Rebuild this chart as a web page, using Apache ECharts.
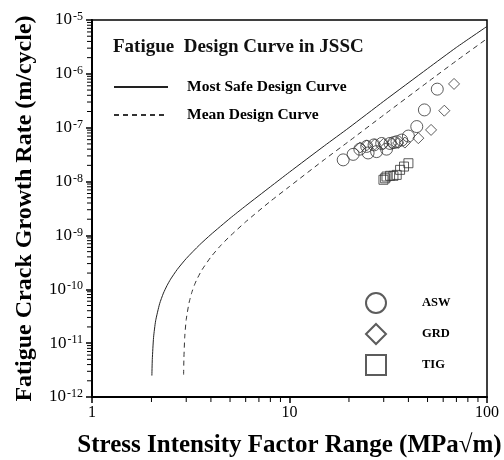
<!DOCTYPE html>
<html>
<head>
<meta charset="utf-8">
<script src="https://cdn.jsdelivr.net/npm/echarts@6/dist/echarts.min.js"></script>
<style>
  html, body { margin: 0; padding: 0; background: #fff; }
  #chart { width: 504px; height: 460px; }
</style>
</head>
<body>
<div id="chart"></div>
<script>
// JSSC fatigue design curves (stress intensity factor range vs crack growth rate)
const safeK    = [2.01, 2.02, 2.05, 2.1, 2.2, 2.3, 2.4, 2.5, 2.7, 3, 3.5, 4, 5, 6, 8, 10, 15, 20, 30, 50, 70, 100];
const safeRate = [2.5e-12, 5.0e-12, 1.28e-11, 2.6e-11, 5.4e-11, 8.5e-11, 1.18e-10, 1.54e-10, 2.33e-10, 3.72e-10, 6.65e-10,
                  1.04e-9, 2.08e-9, 3.54e-9, 8.0e-9, 1.5e-8, 4.6e-8, 1.0e-7, 3.1e-7, 1.25e-6, 3.1e-6, 7.6e-6];
const meanK    = [2.91, 2.92, 2.95, 3.0, 3.1, 3.2, 3.3, 3.4, 3.6, 4, 4.5, 5, 6, 8, 10, 15, 20, 30, 50, 70, 100];
const meanRate = [2.6e-12, 5.3e-12, 1.35e-11, 2.74e-11, 5.6e-11, 8.7e-11, 1.2e-10, 1.54e-10, 2.28e-10, 3.98e-10, 6.6e-10,
                  9.7e-10, 1.79e-9, 4.3e-9, 8.1e-9, 2.55e-8, 5.6e-8, 1.72e-7, 7.0e-7, 1.75e-6, 4.5e-6];

// Test results for the three weld finishes
const aswK    = [18.7, 21.0, 22.7, 25.0, 24.6, 27.6, 26.8, 29.3, 31.0, 32.3, 33.8, 35.0, 37.0, 40.0, 44.1, 48.2, 56.0];
const aswRate = [2.53e-8, 3.2e-8, 4.0e-8, 3.4e-8, 4.5e-8, 3.6e-8, 4.8e-8, 5.1e-8, 4.0e-8, 5.1e-8, 5.3e-8, 5.5e-8, 5.9e-8,
                 7.0e-8, 1.05e-7, 2.14e-7, 5.2e-7];
const grdK    = [22.8, 24.6, 27.0, 29.9, 32.9, 35.5, 38.4, 44.9, 52.1, 60.8, 68.1];
const grdRate = [4.3e-8, 4.7e-8, 4.9e-8, 5.0e-8, 5.1e-8, 5.2e-8, 5.3e-8, 6.4e-8, 9.1e-8, 2.07e-7, 6.5e-7];
const tigK    = [29.9, 30.5, 31.0, 32.3, 33.6, 34.9, 36.3, 38.0, 40.0];
const tigRate = [1.08e-8, 1.15e-8, 1.24e-8, 1.28e-8, 1.28e-8, 1.33e-8, 1.65e-8, 1.9e-8, 2.19e-8];

// Axis tick labels and minor tick positions
const xTickLabels = ['1', '10', '100'];
const minorMantissa = [2, 3, 4, 5, 6, 7, 8, 9];
const xDecades = [1, 10];
const yExponents = [-12, -11, -10, -9, -8, -7, -6];

const zip = (xs, ys) => xs.map((x, i) => [x, ys[i]]);
const serif = "'Liberation Serif', 'Times New Roman', serif";

const xMinor = [];
xDecades.forEach(d => minorMantissa.forEach(m => xMinor.push([d * m, 1e-12])));
const yMinor = [];
yExponents.forEach(e => minorMantissa.forEach(m => yMinor.push([1, m * Math.pow(10, e)])));

function tickSeries(data, dir) {
  return {
    type: 'custom',
    silent: true,
    clip: false,
    data: data,
    z: 5,
    renderItem: function (params, api) {
      const p = api.coord([api.value(0), api.value(1)]);
      const len = 5;
      const shape = dir === 'x'
        ? { x1: p[0], y1: p[1], x2: p[0], y2: p[1] + len }
        : { x1: p[0], y1: p[1], x2: p[0] - len, y2: p[1] };
      return { type: 'line', shape: shape, style: { stroke: '#000', lineWidth: 1 } };
    }
  };
}

const hollow = { color: 'rgba(0,0,0,0)', borderColor: '#333', borderWidth: 1 };

const chart = echarts.init(document.getElementById('chart'));
chart.setOption({
  backgroundColor: '#fff',
  animation: false,
  textStyle: { fontFamily: serif },
  title: {
    text: 'Fatigue  Design Curve in JSSC',
    left: 113, top: 38, padding: 0,
    textStyle: { fontFamily: serif, fontSize: 19, fontWeight: 'bold', color: '#111' }
  },
  legend: [
    {
      data: ['Most Safe Design Curve', 'Mean Design Curve'],
      orient: 'vertical',
      left: 113, top: 79, padding: 0,
      itemWidth: 54, itemHeight: 14, itemGap: 12,
      itemStyle: { opacity: 0 },
      textStyle: { fontFamily: serif, fontSize: 15.5, fontWeight: 'bold', color: '#000', padding: [0, 0, 0, 14] }
    },
    {
      data: ['ASW', 'GRD', 'TIG'],
      orient: 'vertical',
      left: 365, top: 292, padding: 0,
      itemWidth: 20, itemHeight: 20, itemGap: 9,
      textStyle: { fontFamily: serif, fontSize: 12.5, fontWeight: 'bold', color: '#000', padding: [0, 0, 0, 31] }
    }
  ],
  grid: {
    left: 92, right: 17, top: 20, bottom: 63,
    outerBoundsMode: 'none', containLabel: false,
    show: true, borderColor: '#000', borderWidth: 1.5, backgroundColor: 'transparent'
  },
  xAxis: {
    type: 'log', logBase: 10, min: 1, max: 100, interval: 1,
    name: 'Stress Intensity Factor Range (MPa\u221Am)',
    nameLocation: 'middle', nameGap: 36,
    nameTextStyle: { fontFamily: serif, fontSize: 25, fontWeight: 'bold', color: '#000' },
    axisLine: { lineStyle: { color: '#000', width: 2 } },
    axisTick: { show: true, inside: false, length: 6, lineStyle: { color: '#000', width: 1.5 } },
    splitLine: { show: false },
    axisLabel: {
      margin: 8, color: '#000', fontFamily: serif, fontSize: 16,
      formatter: function (v) { return xTickLabels[Math.round(Math.log10(v))]; }
    }
  },
  yAxis: {
    type: 'log', logBase: 10, min: 1e-12, max: 1e-5, interval: 1,
    name: 'Fatigue Crack Growth Rate (m/cycle)',
    nameLocation: 'middle', nameGap: 55,
    nameTextStyle: { fontFamily: serif, fontSize: 24, fontWeight: 'bold', color: '#000' },
    axisLine: { lineStyle: { color: '#000', width: 2 } },
    axisTick: { show: true, inside: false, length: 6, lineStyle: { color: '#000', width: 1.5 } },
    splitLine: { show: false },
    axisLabel: {
      margin: 9, color: '#000',
      formatter: function (v) { return '{b|10}{e|' + Math.round(Math.log10(v)) + '}'; },
      rich: {
        b: { fontFamily: serif, fontSize: 17, color: '#000' },
        e: { fontFamily: serif, fontSize: 12, color: '#000', padding: [0, 0, 6, 1] }
      }
    }
  },
  series: [
    {
      name: 'Most Safe Design Curve', type: 'line', data: zip(safeK, safeRate),
      symbol: 'none', smooth: 0.2,
      lineStyle: { color: '#222', width: 1 }, itemStyle: { color: '#222' }
    },
    {
      name: 'Mean Design Curve', type: 'line', data: zip(meanK, meanRate),
      symbol: 'none', smooth: 0.2,
      lineStyle: { color: '#333', width: 1, type: [5, 4] }, itemStyle: { color: '#333' }
    },
    { name: 'ASW', type: 'scatter', symbol: 'circle', symbolSize: 12, data: zip(aswK, aswRate), itemStyle: hollow },
    { name: 'GRD', type: 'scatter', symbol: 'diamond', symbolSize: 11, data: zip(grdK, grdRate), itemStyle: hollow },
    { name: 'TIG', type: 'scatter', symbol: 'rect', symbolSize: 9, data: zip(tigK, tigRate), itemStyle: hollow },
    tickSeries(xMinor, 'x'),
    tickSeries(yMinor, 'y')
  ]
});
</script>
</body>
</html>
